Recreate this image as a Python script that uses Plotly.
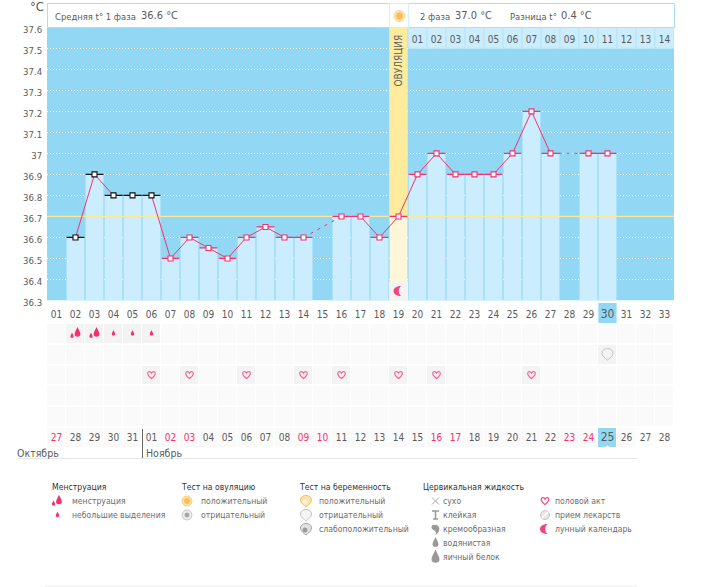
import plotly.graph_objects as go

W, H = 712, 587
FONT = "DejaVu Sans Condensed, DejaVu Sans"
GRAY = "#5a5a5a"
LEG = "#6c6c6c"
PINK = "#F5306E"
BLUE = "#92D8F5"
LIGHT = "#CBEDFD"

# ---------- data ----------
days = list(range(1, 34))
day_labels = [f"{d:02d}" for d in days]
temps = [None, 36.6, 36.9, 36.8, 36.8, 36.8, 36.5, 36.6, 36.55, 36.5, 36.6, 36.65, 36.6, 36.6, None,
         36.7, 36.7, 36.6, 36.7, 36.9, 37.0, 36.9, 36.9, 36.9, 37.0, 37.2, 37.0, None, 37.0, 37.0,
         None, None, None]
dashed_a_x = [14, 16]
dashed_a_y = [36.6, 36.7]
dashed_b_x = [27, 29]
dashed_b_y = [37.0, 37.0]
black_days = [2, 3, 4, 5, 6]
ovulation_day = 19
ovulation_temp = 36.7
y_ticks = [37.6, 37.5, 37.4, 37.3, 37.2, 37.1, 37.0, 36.9, 36.8, 36.7, 36.6, 36.5, 36.4, 36.3]
y_tick_text = ["37.6", "37.5", "37.4", "37.3", "37.2", "37.1", "37", "36.9", "36.8", "36.7", "36.6", "36.5", "36.4", "36.3"]
phase2_days = list(range(20, 34))
phase2_labels = [f"{d:02d}" for d in range(1, 15)]
date_labels = ["27", "28", "29", "30", "31", "01", "02", "03", "04", "05", "06", "07", "08", "09", "10", "11", "12",
               "13", "14", "15", "16", "17", "18", "19", "20", "21", "22", "23", "24", "25", "26", "27", "28"]
weekend_cols = [1, 7, 8, 14, 15, 21, 22, 28, 29]
today_col = 30
heavy_days = [2, 3]
light_days = [4, 5, 6]
heart_days = [6, 8, 11, 14, 16, 19, 21, 26]
test_days = [30]
ROW_MENS, ROW_TEST, ROW_HEART, ROW_DATE = 1, 2, 3, 6


def px(x):
    return x / W


def py(y):
    return 1 - y / H


# ---------- icon paths (pixels around the anchor, y upward) ----------
def drop(cx=0.0, cy=0.0, s=1.0):
    p = lambda a, b: f"{cx + a * s:.2f},{cy + b * s:.2f}"
    return f"M{p(0, 4)} C{p(.8, 2)} {p(2, .5)} {p(2, -1)} C{p(2, -3.2)} {p(-2, -3.2)} {p(-2, -1)} C{p(-2, .5)} {p(-.8, 2)} {p(0, 4)} Z"


def disc(r):
    k = 0.5523 * r
    return (f"M{-r},0 C{-r},{k} {-k},{r} 0,{r} C{k},{r} {r},{k} {r},0 "
            f"C{r},{-k} {k},{-r} 0,{-r} C{-k},{-r} {-r},{-k} {-r},0 Z")


HEART = "M0,-3.6 C-2.4,-1.6 -3.8,-.2 -3.8,1.5 C-3.8,3.8 -1,3.9 0,1.8 C1,3.9 3.8,3.8 3.8,1.5 C3.8,-.2 2.4,-1.6 0,-3.6 Z"
MOON = "M2.5,5 C-2.5,5 -5,2.5 -5,0 C-5,-2.5 -2.5,-5 2.5,-5 C-.5,-3 -.5,3 2.5,5 Z"
TEST = "M-5.5,1 C-5.5,4 -3,5.5 0,5.5 C3,5.5 5.5,4 5.5,1 C5.5,-2.5 2,-4 0,-6 C-2,-4 -5.5,-2.5 -5.5,1 Z"
BIG_DROP = drop(2, 0.5, 1.45) + " " + drop(-3.5, -2.5, .8)
SMALL_DROP = drop(0, 0, .85)

shapes = []


def icon(path, xa, ya, fill="rgba(0,0,0,0)", line="rgba(0,0,0,0)", lw=1, xref="x2", yref="y2"):
    shapes.append(dict(type="path", xsizemode="pixel", ysizemode="pixel", xref=xref, yref=yref,
                       xanchor=xa, yanchor=ya, path=path, fillcolor=fill,
                       line=dict(color=line, width=lw), layer="above"))


def legend_icon(path, x, y, **kw):
    icon(path, px(x), py(y), xref="paper", yref="paper", **kw)


fig = go.Figure()

# ---------- temperature panel ----------
bar_colors = ["#FDF6D8" if d == ovulation_day else LIGHT for d in days]
fig.add_bar(x=days, y=temps, width=0.94, marker=dict(color=bar_colors, line_width=0),
            xaxis="x", yaxis="y", hoverinfo="skip")
fig.add_bar(x=[ovulation_day], y=[37.6 - ovulation_temp], base=[ovulation_temp], width=0.97,
            marker=dict(color="#FDEC9E", line_width=0), xaxis="x", yaxis="y", hoverinfo="skip")
fig.add_bar(x=[ovulation_day], y=[0.09], base=[36.3], width=1,
            marker=dict(color="#F4F3F1", line_width=0), xaxis="x", yaxis="y", hoverinfo="skip")
fig.add_bar(x=phase2_days, y=[0.1] * len(phase2_days), base=[37.5] * len(phase2_days), width=1,
            marker=dict(color=LIGHT, line=dict(color="#B5E4F9", width=1)), xaxis="x", yaxis="y", hoverinfo="skip")
fig.add_scatter(x=[0.5, 33.5], y=[ovulation_temp, ovulation_temp], mode="lines",
                line=dict(color="#FBEB96", width=1.2), xaxis="x", yaxis="y", hoverinfo="skip")
fig.add_scatter(x=phase2_days, y=[37.538] * len(phase2_days), mode="text", text=phase2_labels,
                textfont=dict(family=FONT, size=10, color=GRAY), xaxis="x", yaxis="y", hoverinfo="skip")

for xs, ys in ((dashed_a_x, dashed_a_y), (dashed_b_x, dashed_b_y)):
    fig.add_scatter(x=xs, y=ys, mode="lines", line=dict(color=PINK, width=1, dash="3px,5px"),
                    xaxis="x", yaxis="y", hoverinfo="skip")
fig.add_scatter(x=days, y=temps, mode="lines", line=dict(color=PINK, width=1), connectgaps=False,
                xaxis="x", yaxis="y", hoverinfo="skip")

pink_x = [d for d, t in zip(days, temps) if t is not None and d not in black_days]
pink_y = [t for d, t in zip(days, temps) if t is not None and d not in black_days]
black_x = [d for d, t in zip(days, temps) if t is not None and d in black_days]
black_y = [t for d, t in zip(days, temps) if t is not None and d in black_days]
for xs, ys, c in ((pink_x, pink_y, PINK), (black_x, black_y, "#111111")):
    fig.add_scatter(x=xs, y=ys, mode="markers",
                    marker=dict(symbol="square", size=5, color="white", line=dict(color=c, width=1.1)),
                    error_x=dict(type="constant", value=0.47, thickness=1.3, width=0, color=c),
                    xaxis="x", yaxis="y", hoverinfo="skip")

# ---------- calendar panel ----------
row_ids = [1, 2, 3, 4, 5, 6]
z = []
for r in row_ids:
    line = []
    for d in days:
        v = 0
        if r == ROW_MENS and d in heavy_days + light_days:
            v = 1
        if r == ROW_TEST and d in test_days:
            v = 1
        if r == ROW_HEART and d in heart_days:
            v = 1
        if r == ROW_DATE and d == today_col:
            v = 2
        if r == ROW_DATE and d > 31:
            v = None
        line.append(v)
    z.append(line)
fig.add_heatmap(x=days, y=row_ids, z=z, zmin=0, zmax=2, showscale=False, xgap=1, ygap=2,
                colorscale=[[0, "#FAFAFB"], [0.5, "#F3F3F4"], [1, BLUE]],
                xaxis="x2", yaxis="y2", hoverinfo="skip")
date_colors = [PINK if d in weekend_cols else GRAY for d in days]
date_sizes = [12 if d == today_col else 10 for d in days]
fig.add_scatter(x=days, y=[ROW_DATE + 0.05] * len(days), mode="text", text=date_labels,
                textfont=dict(family=FONT, size=date_sizes, color=date_colors),
                xaxis="x2", yaxis="y2", hoverinfo="skip")

for d in heavy_days:
    icon(BIG_DROP, d, ROW_MENS, fill=PINK)
for d in light_days:
    icon(SMALL_DROP, d, ROW_MENS, fill=PINK)
for d in heart_days:
    icon(HEART, d, ROW_HEART, line="#F7609A", lw=1.2)
for d in test_days:
    icon(TEST, d, ROW_TEST, fill="#F3F3F3", line="#C4C4C4", lw=1)
icon("M-3,-1.5 L3,-1.5 L0,1.5 Z", today_col, 6.45, fill="white")

# blue cell behind the axis label of the current day
shapes.append(dict(type="rect", xref="x", yref="paper", x0=today_col - .48, x1=today_col + .48,
                   y0=py(323), y1=py(303), fillcolor=BLUE, line_width=0, layer="below"))
# chart background (below the grid)
shapes.append(dict(type="rect", xref="x", yref="y", x0=0.5, x1=33.5, y0=36.3, y1=37.6,
                   fillcolor=BLUE, line_width=0, layer="below"))

# ---------- header box ----------
shapes.append(dict(type="rect", xref="paper", yref="paper", x0=px(47.5), x1=px(674.5), y0=py(27.5), y1=py(3.5),
                   fillcolor="white", line=dict(color="#A9DEF6", width=1), layer="above"))
shapes.append(dict(type="rect", xref="paper", yref="paper", x0=px(389.5), x1=px(408.5), y0=py(27.5), y1=py(3.5),
                   fillcolor="white", line=dict(color="#D6F0FB", width=1), layer="above"))
legend_icon(disc(5.5), 399.5, 16, fill="#FBE3A8", line="#F8D89A")
legend_icon(disc(3.5), 399.5, 16, fill="#F6BE58")
# moon on the ovulation column
icon(MOON, ovulation_day, 36.345, fill="#F0457F", xref="x", yref="y")

# month separator and rules
shapes.append(dict(type="line", xref="paper", yref="paper", x0=px(142.5), x1=px(142.5), y0=py(429), y1=py(458),
                   line=dict(color="#666666", width=1)))
shapes.append(dict(type="line", xref="paper", yref="paper", x0=px(17), x1=px(637), y0=py(458.5), y1=py(458.5),
                   line=dict(color="#E6E6E6", width=1)))

# ---------- legend icons ----------
legend_icon(BIG_DROP, 57, 501, fill=PINK)
legend_icon(SMALL_DROP, 57.5, 515, fill=PINK)
legend_icon(disc(5), 187, 501, fill="#FBE3A8", line="#F6CD85")
legend_icon(disc(3), 187, 501, fill="#F6BE58")
legend_icon(disc(5), 187, 515, fill="#EDEDED", line="#C8C8C8")
legend_icon(disc(2.5), 187, 515, fill="#A8A8A8")
legend_icon(TEST, 306, 501, fill="#FBE3A8", line="#F4C068")
legend_icon(disc(2.5), 305, 502, fill="#FBF3DE")
legend_icon(TEST, 306, 515, fill="#F4F4F4", line="#C4C4C4")
legend_icon(TEST, 306, 529, fill="#E2E2E2", line="#A8A8A8")
legend_icon(disc(2.5), 305, 530, fill="#9A9A9A")

CG = "#999999"
legend_icon("M-3.5,-3.5 L3.5,3.5 M-3.5,3.5 L3.5,-3.5", 435.5, 501, line="#AAAAAA", lw=1)
legend_icon("M-3.5,4 L3.5,4 M0,4 L0,-4 M-2.5,-4 L2.5,-4", 435.5, 515, line=CG, lw=1.5)
legend_icon("M-4,2 C-4,5 2,5 3.5,2 C4.5,-1 3,-4 0,-6 C1,-3 0,-2 -2,-1 C-3,-.5 -4,0 -4,2 Z", 435.5, 529, fill=CG)
legend_icon(drop(0, 0, 1.5), 435.5, 543, fill=CG)
legend_icon(drop(0, -0.5, 2), 435.5, 557, fill=CG)
legend_icon(HEART, 545, 501, line="#F0457F", lw=1.2)
legend_icon(disc(4.5), 545, 515, fill="#E6E6E6", line="#C8C8C8")
legend_icon("M-3,-3 L3,3", 545, 515, line="white", lw=1.5)
legend_icon(MOON, 545, 529, fill="#F0457F")

# ---------- text ----------
ann = []
LEFT_PAD = 2


def text(s, x, y, size=10, color=GRAY, anchor="left", angle=0, family=FONT):
    x0 = x - LEFT_PAD if anchor == "left" else x
    ann.append(dict(text=s, x=px(x0), y=py(y), xref="paper", yref="paper", showarrow=False,
                    xanchor=anchor, yanchor="middle", textangle=angle, align="left",
                    font=dict(family=family, size=size, color=color)))


text("°C", 30, 6.5, size=13)
text("Средняя t° 1 фаза", 54.5, 16, size=9.4)
text("36.6 °C", 141, 15.5, size=11)
text("2 фаза", 419.5, 16, size=9.4)
text("37.0 °C", 455, 15.5, size=11)
text("Разница t°", 509.5, 16, size=9.4)
text("0.4 °C", 561, 15.5, size=11)
text("ОВУЛЯЦИЯ", 398.5, 61, size=10, anchor="center", angle=-90)
text("Октябрь", 17, 453, size=10.5)
text("Ноябрь", 146, 453, size=10.5)

for s, x in (("Менструация", 52), ("Тест на овуляцию", 181), ("Тест на беременность", 299),
             ("Цервикальная жидкость", 423)):
    text(s, x, 487, size=8.6, color="#333333")
for s, x, y in (("менструация", 72, 501), ("небольшие выделения", 72, 515),
                ("положительный", 201, 501), ("отрицательный", 201, 515),
                ("положительный", 319, 501), ("отрицательный", 319, 515), ("слабоположительный", 319, 529),
                ("сухо", 443, 501), ("клейкая", 443, 515), ("кремообразная", 443, 529),
                ("водянистая", 443, 543), ("яичный белок", 443, 557),
                ("половой акт", 555, 501), ("прием лекарств", 555, 515), ("лунный календарь", 555, 529)):
    text(s, x, y, size=8.6, color=LEG)

shapes.append(dict(type="line", xref="paper", yref="paper", x0=px(45), x1=px(637), y0=py(586), y1=py(586),
                   line=dict(color="#EFEFEF", width=1)))

tick_text = [f"<span style='font-size:12px'>{t}</span>" if d == today_col else t for d, t in zip(days, day_labels)]

fig.update_layout(
    width=W, height=H, margin=dict(l=0, r=0, t=0, b=0), showlegend=False, barmode="overlay",
    paper_bgcolor="white", plot_bgcolor="rgba(0,0,0,0)", shapes=shapes, annotations=ann,
    xaxis=dict(domain=[px(47), px(674)], range=[0.5, 33.5], anchor="y", tickmode="array", tickvals=days,
               ticktext=tick_text, ticks="outside", ticklen=4, tickcolor="rgba(0,0,0,0)", showgrid=False,
               zeroline=False, showline=False, tickangle=0, automargin=False,
               tickfont=dict(family=FONT, size=10, color=GRAY)),
    yaxis=dict(domain=[py(300.5), py(27.3)], range=[36.3, 37.6], anchor="x", tickmode="array", tickvals=y_ticks,
               ticktext=y_tick_text, showgrid=True, gridcolor="white", griddash="1px,2px", gridwidth=1,
               ticks="outside", ticklen=2, tickcolor="rgba(0,0,0,0)",
               zeroline=False, showline=False, ticklabelshift=2, automargin=False,
               tickfont=dict(family=FONT, size=9.5, color=GRAY)),
    xaxis2=dict(domain=[px(47), px(674)], range=[0.5, 33.5], anchor="y2", visible=False, automargin=False),
    yaxis2=dict(domain=[py(447.7), py(302.1)], range=[6.5, -0.5], anchor="x2", visible=False, automargin=False),
)

fig.write_html("out.html", config=dict(displayModeBar=False),
               post_script="document.body.style.margin='0';")
